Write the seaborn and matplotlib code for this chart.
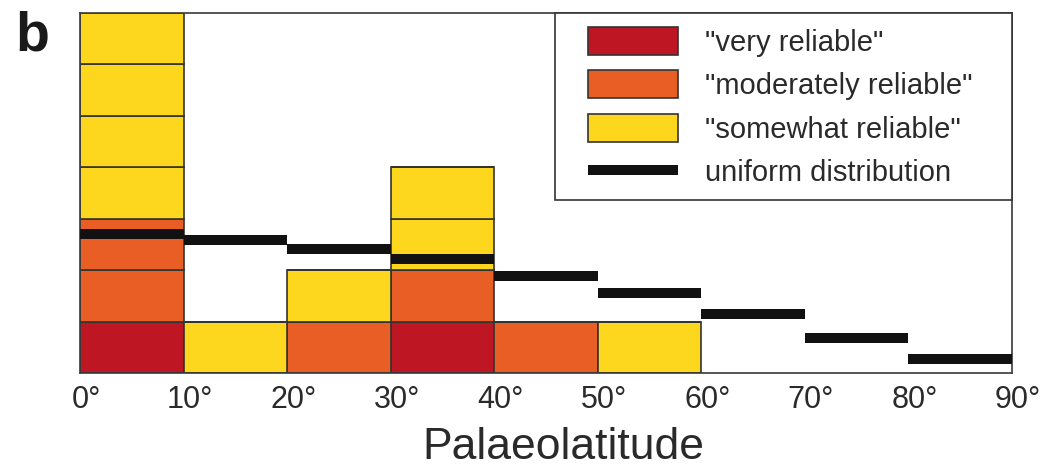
import matplotlib
matplotlib.use("Agg")
import matplotlib.pyplot as plt
import matplotlib.transforms as mtransforms
from matplotlib.patches import Patch, Rectangle
from matplotlib.lines import Line2D
import pandas as pd
import seaborn as sns

# Counts of palaeomagnetic records per 10-degree palaeolatitude band
bin_edges = [0, 10, 20, 30, 40, 50, 60]
very_reliable = [1, 0, 0, 1, 0, 0]
moderately_reliable = [2, 0, 1, 1, 1, 0]
somewhat_reliable = [4, 1, 1, 2, 0, 1]

# Expected counts per band for a uniform distribution on the sphere
uniform_edges = [0, 10, 20, 30, 40, 50, 60, 70, 80, 90]
uniform_expected = [2.71, 2.58, 2.41, 2.21, 1.88, 1.55, 1.14, 0.69, 0.28]

tick_values = [0, 10, 20, 30, 40, 50, 60, 70, 80, 90]
tick_labels = ["0°", "10°", "20°", "30°", "40°", "50°", "60°", "70°", "80°", "90°"]

categories = ['"very reliable"', '"moderately reliable"', '"somewhat reliable"']
colors = ["#BE1622", "#E95E24", "#FDD71E"]
uniform_label = "uniform distribution"

sns.set_style("white")
plt.rcParams["font.family"] = ["Liberation Sans", "DejaVu Sans"]

# One row per record; each record sits in its own stacking layer so that
# every single record is outlined as a separate box.
rows = []
layers_bottom_up = []
palette = {}
for cat, counts, color in zip(categories,
                              [very_reliable, moderately_reliable, somewhat_reliable],
                              colors):
    for j in range(max(counts)):
        layer = f"{cat} #{j + 1}"
        layers_bottom_up.append(layer)
        palette[layer] = color
        for left, c in zip(bin_edges[:-1], counts):
            if c > j:
                rows.append({"lat": left + 5, "layer": layer})
records = pd.DataFrame(rows)

fig = plt.figure(figsize=(10.45, 4.69), dpi=100)
ax = fig.add_axes([0.0766, 0.2047, 0.8918, 0.7676])

sns.histplot(
    data=records, x="lat", hue="layer",
    hue_order=layers_bottom_up[::-1], palette=palette,
    multiple="stack", bins=bin_edges, stat="count",
    edgecolor="#333333", linewidth=1.2, alpha=1.0,
    legend=False, ax=ax, zorder=2,
)

ax.hlines(uniform_expected, uniform_edges[:-1], uniform_edges[1:],
          colors="#111111", linewidth=7.2, capstyle="butt", zorder=4)

ax.set_xlim(0, 90)
ax.set_ylim(0, 7)
ax.set_yticks([])
ax.set_ylabel("")
ax.set_xticks(tick_values)
ax.set_xticklabels(tick_labels)
ax.tick_params(axis="x", length=0, pad=9, labelsize=22, labelcolor="#2a2a2a")
offset = mtransforms.ScaledTranslation(6 / 100, 0, fig.dpi_scale_trans)
for lbl in ax.get_xticklabels():
    lbl.set_transform(lbl.get_transform() + offset)
ax.set_xlabel("Palaeolatitude", fontsize=32, color="#2a2a2a", labelpad=8)
ax.xaxis.label.set_x(0.519)

for sp in ax.spines.values():
    sp.set_color("#3a3a3a")
    sp.set_linewidth(1.2)

# Legend box anchored to the upper-right corner of the axes
ax.add_patch(Rectangle((0.5097, 0.4806), 0.4903, 0.5194, transform=ax.transAxes,
                       facecolor="white", edgecolor="#333333", linewidth=1.2,
                       zorder=4.5, clip_on=False))
handles = [Patch(facecolor=c, edgecolor="#333333", linewidth=1.2) for c in colors]
handles.append(Line2D([], [], color="#111111", linewidth=7.2, solid_capstyle="butt"))
leg = ax.legend(
    handles, categories + [uniform_label],
    loc="upper left", bbox_to_anchor=(0.545, 0.962), borderaxespad=0,
    fontsize=21, frameon=False, borderpad=0,
    handlelength=3.08, handleheight=1.1, handletextpad=0.92,
    labelspacing=0.47,
)
leg.set_zorder(5)
for t in leg.get_texts():
    t.set_color("#2a2a2a")

fig.text(0.015, 0.893, "b", fontsize=40, fontweight="bold", color="#1a1a1a")

fig.savefig("out.png", dpi=100)
